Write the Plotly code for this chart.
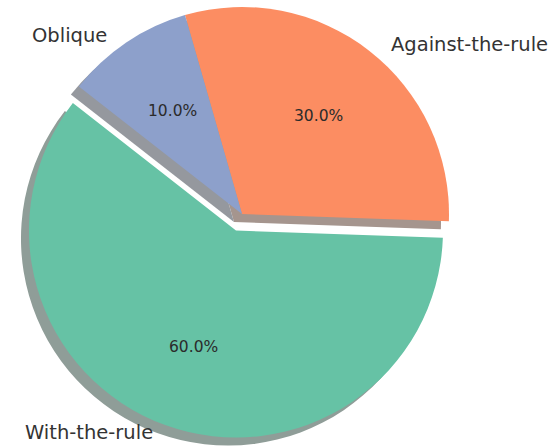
import math
import plotly.graph_objects as go

labels = ["With-the-rule", "Against-the-rule", "Oblique"]
values = [60, 30, 10]
colors = ["#66c2a5", "#fc8d62", "#8da0cb"]
explode = [0.085, 0.0, 0.0]
start_angle = 142  # matplotlib-style, degrees ccw from 3 o'clock

W, H = 553, 446
R = 207
CX, CY = 242, 214
SHADOW = (-8, 8)
LABEL_DIST = (1.15, 1.04)
PCT_DIST = 0.6
TRANSPARENT = "rgba(0,0,0,0)"

def shadow_color(hex_color):
    r, g, b = (int(hex_color[i:i + 2], 16) for i in (1, 3, 5))
    return "rgb(%d,%d,%d)" % tuple(round(0.5 * 0.3 * c + 0.5 * 255) for c in (r, g, b))

def clamp(v):
    return min(1.0, max(0.0, v))

def domain(cx, cy, r):
    return dict(x=[clamp((cx - r) / W), clamp((cx + r) / W)],
                y=[clamp(1 - (cy + r) / H), clamp(1 - (cy - r) / H)])

total = sum(values)
mids = []
acc = start_angle
for v in values:
    span = 360 * v / total
    mids.append(acc + span / 2)
    acc += span

offsets = []
for m, e in zip(mids, explode):
    offsets.append((e * R * math.cos(math.radians(m)), -e * R * math.sin(math.radians(m))))

rotation = (90 - (start_angle + 360 * values[0] / total)) % 360

fig = go.Figure()

def add_layer(idx_set, color_fn, dx, dy):
    ox, oy = offsets[idx_set[0]]
    cols = [color_fn(i) if i in idx_set else TRANSPARENT for i in range(len(values))]
    fig.add_trace(go.Pie(
        labels=labels, values=values, sort=False, direction="counterclockwise",
        rotation=rotation, marker=dict(colors=cols, line=dict(width=0)),
        textinfo="none", hoverinfo="skip", showlegend=False,
        domain=domain(CX + ox + dx, CY + oy + dy, R),
    ))

unpulled = [i for i, e in enumerate(explode) if e == 0]
pulled = [i for i, e in enumerate(explode) if e != 0]

add_layer(unpulled, lambda i: shadow_color(colors[i]), *SHADOW)
for i in pulled:
    add_layer([i], lambda j: shadow_color(colors[j]), *SHADOW)
add_layer(unpulled, lambda i: colors[i], 0, 0)
for i in pulled:
    add_layer([i], lambda j: colors[j], 0, 0)

annotations = []
for i, (lab, v, m) in enumerate(zip(labels, values, mids)):
    ox, oy = offsets[i]
    c, s = math.cos(math.radians(m)), math.sin(math.radians(m))
    px_ = CX + ox + PCT_DIST * R * c
    py_ = CY + oy - PCT_DIST * R * s
    annotations.append(dict(x=px_ / W, y=1 - py_ / H, xref="paper", yref="paper",
                            text="%.1f%%" % (100 * v / total), showarrow=False,
                            xanchor="center", yanchor="middle",
                            font=dict(family="DejaVu Sans", size=15.5, color="#2b2b2b")))
    lx = CX + ox + LABEL_DIST[0] * R * c
    ly = CY + oy - LABEL_DIST[1] * R * s
    annotations.append(dict(x=lx / W, y=1 - ly / H, xref="paper", yref="paper",
                            text=lab, showarrow=False,
                            xanchor="left" if c > 0 else "right", yanchor="middle",
                            font=dict(family="DejaVu Sans", size=19.5, color="#333333")))

fig.update_layout(width=W, height=H, margin=dict(l=0, r=0, t=0, b=0),
                  paper_bgcolor="white", plot_bgcolor="white",
                  annotations=annotations)

fig.write_html("out.html")
